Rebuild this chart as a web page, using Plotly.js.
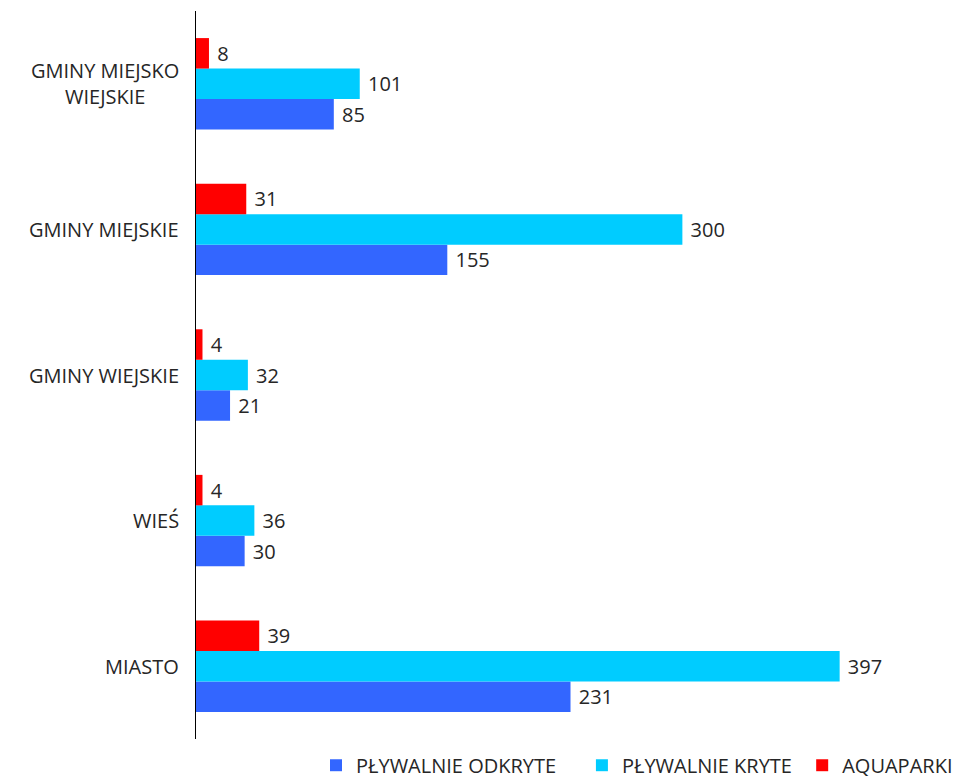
<!DOCTYPE html>
<html>
<head>
<meta charset="utf-8">
<script src="https://cdn.plot.ly/plotly-3.0.1.min.js"></script>
<style>html,body{margin:0;padding:0;background:#fff;}#chart{width:964px;height:782px;}</style>
</head>
<body>
<div id="chart"></div>
<script>
const categories = ["MIASTO", "WIEŚ", "GMINY WIEJSKIE", "GMINY MIEJSKIE", "GMINY MIEJSKO<br>WIEJSKIE"];
const seriesNames = ["PŁYWALNIE ODKRYTE", "PŁYWALNIE KRYTE", "AQUAPARKI"];
const odkryte = [231, 30, 21, 155, 85];
const kryte = [397, 36, 32, 300, 101];
const aquaparki = [39, 4, 4, 31, 8];
const colors = ["#3366FF", "#00CCFF", "#FF0000"];

const FONT = "'Century Gothic', 'Open Sans', 'Lato', sans-serif";
const TXT = "#262626";
const legendPad = ["\u00a0\u00a0\u00a0\u00a0", "\u00a0", ""];

const values = [odkryte, kryte, aquaparki];
const traces = values.map((v, i) => ({
  type: "bar",
  orientation: "h",
  name: seriesNames[i] + legendPad[i],
  y: categories,
  x: v,
  marker: {color: colors[i]},
  text: v.map(n => "\u00a0" + n),
  textposition: "outside",
  textfont: {family: FONT, size: 20, color: TXT},
  cliponaxis: false,
  hoverinfo: "x+name"
}));

const annotations = categories.map(c => ({
  xref: "paper", yref: "y",
  x: 0, y: c,
  xanchor: "right", yanchor: "middle",
  xshift: -15,
  text: c,
  align: "center",
  showarrow: false,
  font: {family: FONT, size: 20, color: TXT}
}));

const layout = {
  width: 964, height: 782,
  margin: {l: 196, r: 6, t: 11, b: 43, pad: 0, autoexpand: false},
  paper_bgcolor: "#fff", plot_bgcolor: "#fff",
  barmode: "group",
  bargap: 0.372,
  bargroupgap: 0,
  font: {family: FONT, size: 20, color: TXT},
  xaxis: {range: [0, 470], visible: false, showgrid: false, zeroline: false},
  yaxis: {type: "category", showticklabels: false, ticks: "", showgrid: false,
          showline: true, linecolor: "#000", linewidth: 1, zeroline: false},
  showlegend: true,
  legend: {orientation: "h", x: 1, xanchor: "right", y: -0.036, yanchor: "middle",
           font: {family: FONT, size: 20, color: TXT}, traceorder: "normal",
           bgcolor: "rgba(0,0,0,0)"},
  annotations: annotations
};

Plotly.newPlot("chart", traces, layout, {displayModeBar: false, staticPlot: true});
</script>
</body>
</html>
